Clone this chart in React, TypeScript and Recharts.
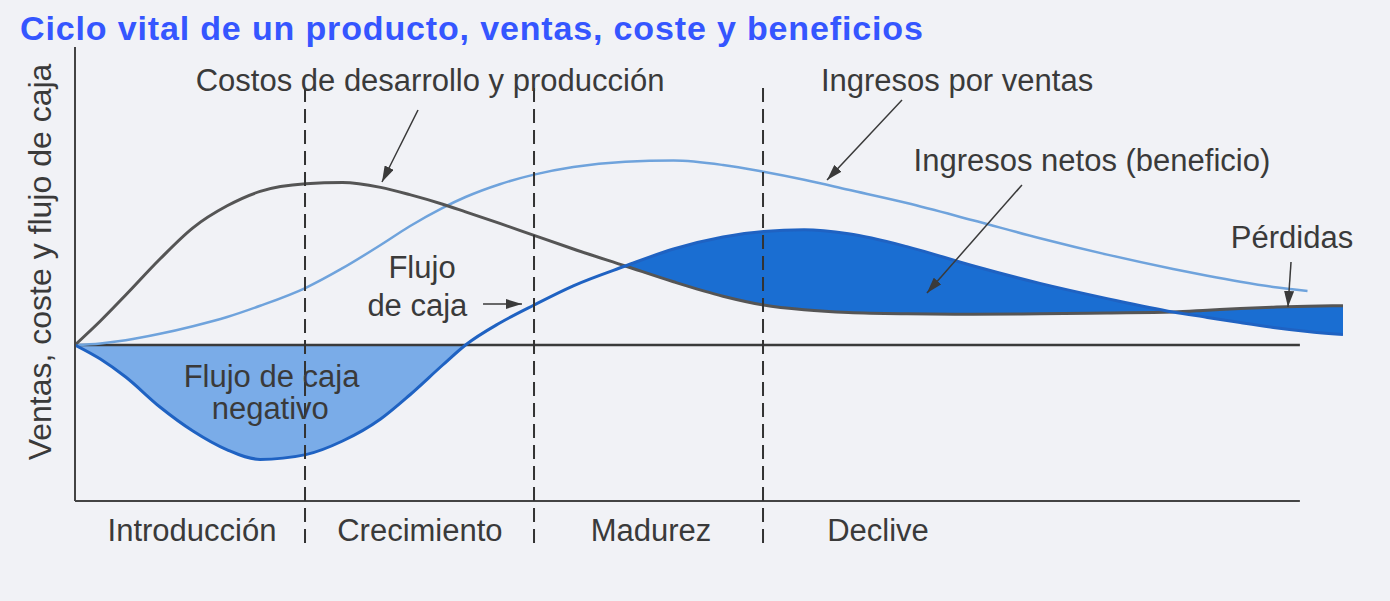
import React from 'react';
import {
  ComposedChart,
  Line,
  Area,
  XAxis,
  YAxis,
  ReferenceLine,
  ReferenceDot,
} from 'recharts';

// ---- Data ----
const X = [0, 2, 4, 6.7, 9.3, 12, 14.6, 18.2, 21.1, 24.1, 26.4, 29, 30.8, 33.5, 36.2, 39.3, 43.4, 47.2, 51.1, 54.3, 57.5, 61, 65.6, 70.8, 76.1, 81.4, 86.6, 89.3, 91.9, 94.5, 97.2, 100];

const COST = [0, 6, 12.5, 21.5, 29.3, 34.8, 38.4, 40.3, 40.6, 39.4, 37.6, 35.2, 33.3, 30.4, 27.4, 24, 19.75, 15.8, 12.2, 10, 8.8, 8.1, 7.8, 7.7, 7.8, 8, 8.25, 8.7, 9.15, 9.45, 9.7, 9.8];

const SALES = [0, 0.4, 1.2, 2.8, 4.7, 7, 9.8, 14.3, 19.2, 25, 29.7, 34.3, 37, 40.2, 42.6, 44.5, 45.8, 46.1, 45, 43.3, 41.3, 38.8, 35.5, 31.2, 26.7, 22.6, 19, 17.3, 15.8, 14.5, 13.5, null];

const CASH = [0, -3.5, -8, -15.5, -21.5, -26.2, -28.6, -27.4, -24, -18.5, -12.5, -5, 0, 5.5, 10, 14.8, 19.75, 24, 27, 28.4, 28.8, 27.8, 24.6, 19.8, 15.4, 11.6, 8.25, 6.9, 5.6, 4.4, 3.4, 2.6];

const STAGES = ['Introducción', 'Crecimiento', 'Madurez', 'Declive'];
const STAGE_CENTERS = [9.23, 27.2, 45.43, 63.33];
const STAGE_BOUNDS = [18.14, 36.2, 54.26];

const NEG_END = 30.8;
const PROFIT_START = 43.4;
const PROFIT_END = 86.6;
const AXIS_END = 96.6;

const TITLE = 'Ciclo vital de un producto, ventas, coste y beneficios';
const Y_LABEL = 'Ventas, coste y flujo de caja';

const NOTES = [
  { text: 'Costos de desarrollo y producción', x: 28.0, y: 66.25 },
  { text: 'Ingresos por ventas', x: 69.56, y: 66.25 },
  { text: 'Ingresos netos (beneficio)', x: 80.2, y: 46.25 },
  { text: 'Pérdidas', x: 95.98, y: 27 },
  { text: 'Flujo', x: 27.37, y: 19.5 },
  { text: 'de caja', x: 27.0, y: 10 },
  { text: 'Flujo de caja', x: 15.5, y: -7.75 },
  { text: 'negativo', x: 15.4, y: -15.75 },
];

const ARROWS = [
  { x1: 27.05, y1: 58.75, x2: 24.21, y2: 40.75 },
  { x1: 65.22, y1: 61.25, x2: 59.31, y2: 41.25 },
  { x1: 74.68, y1: 40, x2: 67.19, y2: 13 },
  { x1: 95.9, y1: 20.75, x2: 95.66, y2: 9.5 },
  { x1: 32.18, y1: 10.25, x2: 35.25, y2: 10.25 },
];

const data = X.map((x, i) => ({
  x,
  cost: COST[i],
  sales: SALES[i],
  cash: CASH[i],
  neg: x <= NEG_END ? [CASH[i], 0] : null,
  profit: x >= PROFIT_START && x <= PROFIT_END ? [COST[i], CASH[i]] : null,
  loss: x >= PROFIT_END ? [CASH[i], COST[i]] : null,
}));

const FONT = '"Liberation Sans", Arial, Helvetica, sans-serif';
const TEXT_COLOR = '#3a3a3a';

export default function App() {
  return (
    <div
      style={{
        position: 'absolute',
        left: 0,
        top: 0,
        width: 1390,
        height: 601,
        background: '#f1f2f6',
        fontFamily: FONT,
      }}
    >
      <div
        style={{
          position: 'absolute',
          left: 20,
          top: 11,
          fontSize: 34,
          lineHeight: '34px',
          fontWeight: 'bold',
          letterSpacing: 0.85,
          color: '#3556ff',
          whiteSpace: 'nowrap',
          zIndex: 2,
        }}
      >
        {TITLE}
      </div>
      <ComposedChart
        width={1390}
        height={601}
        data={data}
        margin={{ top: 47, right: 47, bottom: 40, left: 0 }}
        style={{ position: 'absolute', left: 0, top: 0 }}
      >
        <defs>
          <marker
            id="arrowHead"
            viewBox="0 0 10 10"
            refX="10"
            refY="5"
            markerWidth="16"
            markerHeight="10"
            markerUnits="userSpaceOnUse"
            preserveAspectRatio="none"
            orient="auto"
          >
            <path d="M0,0 L10,5 L0,10 z" fill="#3a3a3a" />
          </marker>
        </defs>
        <XAxis
          dataKey="x"
          type="number"
          domain={[0, 100]}
          allowDataOverflow
          ticks={STAGE_CENTERS}
          interval={0}
          tickFormatter={(v: number) => STAGES[STAGE_CENTERS.indexOf(v)] ?? ''}
          axisLine={false}
          tickLine={false}
          tickSize={6}
          tickMargin={12}
          height={60}
          tick={{ fontSize: 31, fill: TEXT_COLOR, fontFamily: FONT }}
        />
        <YAxis
          type="number"
          domain={[-39, 74.5]}
          allowDataOverflow
          width={75}
          tick={false}
          tickLine={false}
          axisLine={{ stroke: '#444', strokeWidth: 2 }}
          label={{
            value: Y_LABEL,
            angle: -90,
            position: 'center',
            dx: 2,
            dy: -12,
            fontSize: 32,
            fill: TEXT_COLOR,
            fontFamily: FONT,
          }}
        />

        <Area
          dataKey="neg"
          type="monotone"
          stroke="none"
          fill="#7aace8"
          fillOpacity={1}
          isAnimationActive={false}
          dot={false}
          activeDot={false}
        />
        <Area
          dataKey="profit"
          type="monotone"
          stroke="none"
          fill="#1a6ed2"
          fillOpacity={1}
          isAnimationActive={false}
          dot={false}
          activeDot={false}
        />
        <Area
          dataKey="loss"
          type="monotone"
          stroke="none"
          fill="#1a6ed2"
          fillOpacity={1}
          isAnimationActive={false}
          dot={false}
          activeDot={false}
        />

        <ReferenceLine
          segment={[{ x: 0, y: 0 }, { x: AXIS_END, y: 0 }]}
          stroke="#3a3a3a"
          strokeWidth={2.5}
          ifOverflow="visible"
        />
        <ReferenceLine
          segment={[{ x: 0, y: -39 }, { x: AXIS_END, y: -39 }]}
          stroke="#444"
          strokeWidth={2}
          ifOverflow="visible"
        />

        <Line
          dataKey="sales"
          type="monotone"
          stroke="#6fa3dc"
          strokeWidth={2.5}
          dot={false}
          activeDot={false}
          isAnimationActive={false}
        />
        <Line
          dataKey="cost"
          type="monotone"
          stroke="#555"
          strokeWidth={3}
          dot={false}
          activeDot={false}
          isAnimationActive={false}
        />
        <Line
          dataKey="cash"
          type="monotone"
          stroke="#1f62c2"
          strokeWidth={3}
          dot={false}
          activeDot={false}
          isAnimationActive={false}
        />

        {STAGE_BOUNDS.map((b) => (
          <ReferenceLine
            key={'b' + b}
            segment={[{ x: b, y: 64.25 }, { x: b, y: -50 }]}
            stroke="#333"
            strokeWidth={2}
            strokeDasharray="14 7"
            ifOverflow="visible"
          />
        ))}

        {ARROWS.map((a, i) => (
          <ReferenceLine
            key={'a' + i}
            segment={[{ x: a.x1, y: a.y1 }, { x: a.x2, y: a.y2 }]}
            stroke="#3a3a3a"
            strokeWidth={1.5}
            markerEnd="url(#arrowHead)"
            ifOverflow="visible"
          />
        ))}

        {NOTES.map((n, i) => (
          <ReferenceDot
            key={'n' + i}
            x={n.x}
            y={n.y}
            r={0}
            fill="none"
            stroke="none"
            ifOverflow="visible"
            label={{
              value: n.text,
              position: 'center',
              fontSize: 31,
              fill: TEXT_COLOR,
              fontFamily: FONT,
            }}
          />
        ))}
      </ComposedChart>
    </div>
  );
}
